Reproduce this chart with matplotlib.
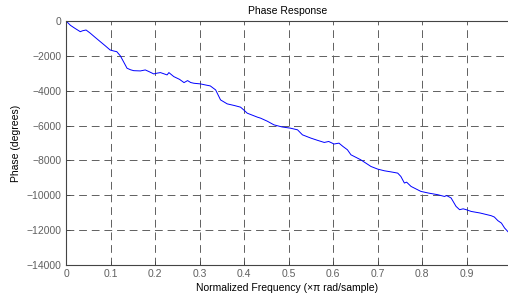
import matplotlib.pyplot as plt

# normalized frequency (x pi rad/sample) and unwrapped phase (degrees)
freq = [0.0, 0.01, 0.02, 0.032, 0.037, 0.045, 0.054, 0.065, 0.077, 0.088, 0.099, 0.107,
        0.114, 0.122, 0.129, 0.137, 0.145, 0.152, 0.167, 0.178, 0.186, 0.197, 0.205, 0.212,
        0.227, 0.231, 0.242, 0.255, 0.265, 0.273, 0.28, 0.287, 0.302, 0.315, 0.324, 0.336,
        0.347, 0.362, 0.378, 0.392, 0.399, 0.407, 0.418, 0.43, 0.437, 0.452, 0.467, 0.485,
        0.504, 0.52, 0.531, 0.55, 0.565, 0.58, 0.59, 0.602, 0.613, 0.622, 0.632, 0.64,
        0.662, 0.685, 0.7, 0.715, 0.73, 0.745, 0.752, 0.76, 0.765, 0.775, 0.797, 0.815,
        0.835, 0.85, 0.855, 0.865, 0.876, 0.884, 0.892, 0.899, 0.91, 0.93, 0.955, 0.962,
        0.97, 0.978, 0.985, 0.994]
phase = [0, -250, -420, -613, -560, -516, -690, -930, -1186, -1420, -1662, -1720,
         -1760, -2000, -2330, -2710, -2800, -2850, -2865, -2808, -2900, -3037, -2990, -2960,
         -3094, -2960, -3190, -3350, -3535, -3420, -3530, -3572, -3610, -3680, -3725, -3954,
         -4527, -4756, -4850, -4945, -5100, -5290, -5400, -5520, -5576, -5750, -5960, -6080,
         -6150, -6246, -6533, -6722, -6850, -6970, -6915, -7060, -7010, -7200, -7390, -7680,
         -7966, -8350, -8500, -8596, -8660, -8730, -8920, -9300, -9250, -9495, -9780, -9880,
         -9970, -10070, -10020, -10160, -10640, -10830, -10780, -10830, -10930, -11020, -11175, -11250,
         -11460, -11600, -11880, -12130]

xticks = [0, 0.1, 0.2, 0.3, 0.4, 0.5, 0.6, 0.7, 0.8, 0.9]
yticks = [0, -2000, -4000, -6000, -8000, -10000, -12000, -14000]

plt.rcParams['font.family'] = ['Liberation Sans', 'DejaVu Sans']
plt.rcParams['font.size'] = 7.5

fig = plt.figure(figsize=(5.08, 2.96), dpi=100)
ax = fig.add_axes([0.130, 0.105, 0.872, 0.824])

ax.plot(freq, phase, color='#0000ff', linewidth=0.7)

ax.set_xlim(0, 0.995)
ax.set_ylim(-14000, 0)
ax.set_xticks(xticks)
ax.set_xticklabels(['0'] + ['%.1f' % v for v in xticks[1:]])
ax.set_yticks(yticks)
ax.tick_params(direction='in', length=3, width=0.6, colors='#444444',
               labelcolor='#606060', pad=3)
ax.grid(True, linestyle=(0, (8, 5)), color='#606060', linewidth=0.7)
for s in ax.spines.values():
    s.set_color('#444444')
    s.set_linewidth(0.8)

ax.set_title('Phase Response', fontsize=7.5, pad=5)
ax.set_xlabel('Normalized Frequency (\u00d7\u03c0 rad/sample)', labelpad=3)
ax.set_ylabel('Phase (degrees)', labelpad=4)

fig.savefig('out.png', dpi=100)
